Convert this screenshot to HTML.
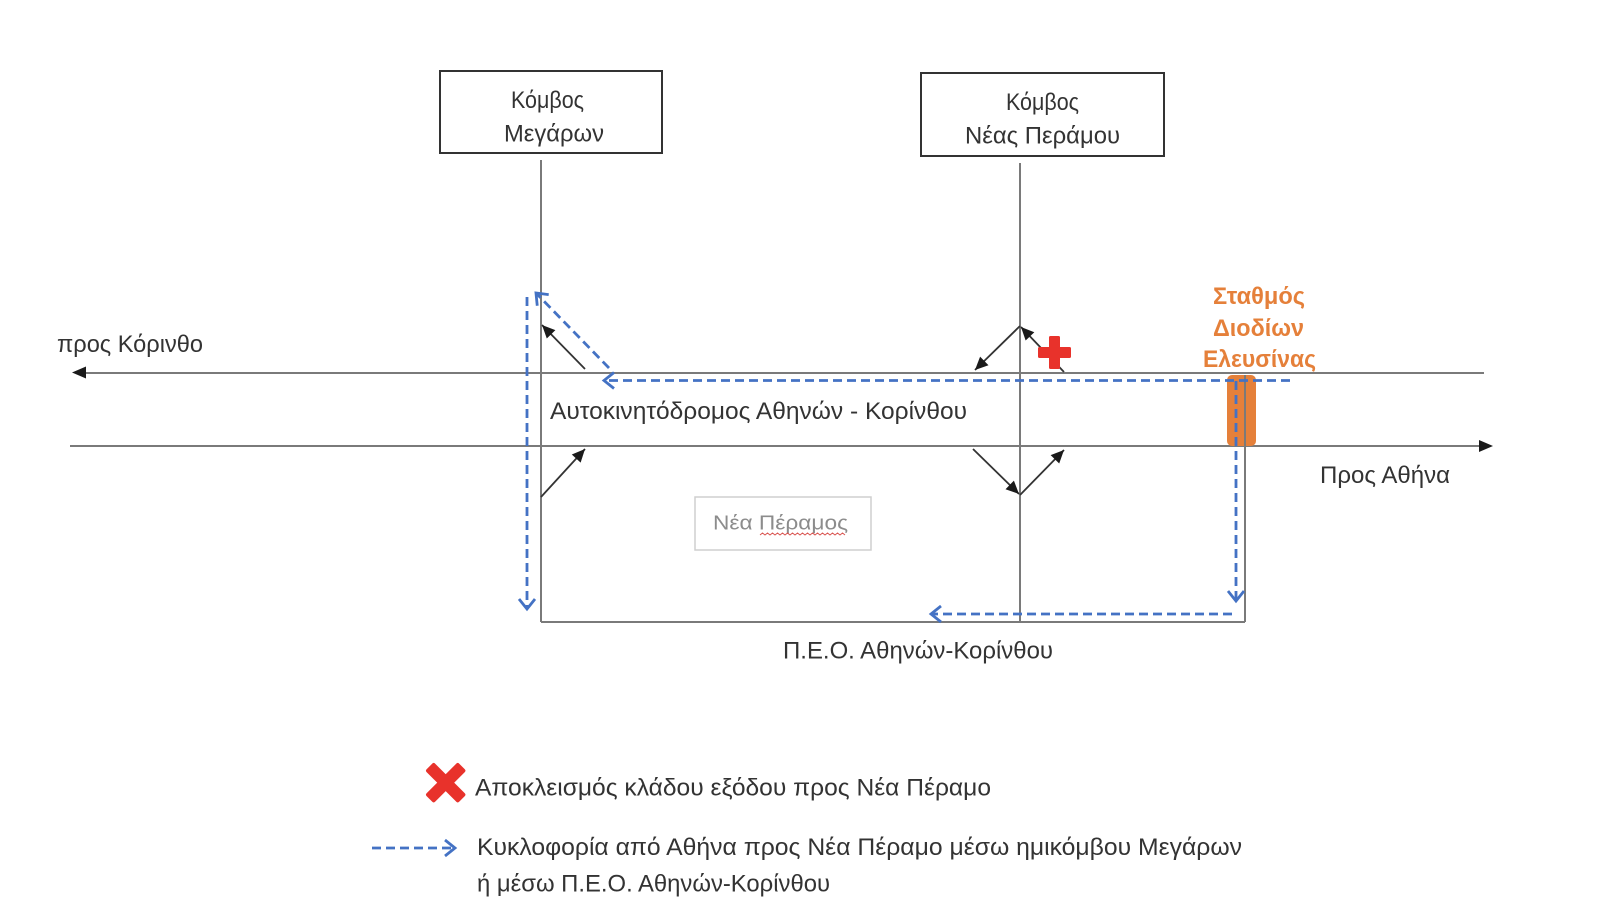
<!DOCTYPE html>
<html>
<head>
<meta charset="utf-8">
<style>
  html,body{margin:0;padding:0;background:#fff;}
  svg{display:block;}
  text{font-family:"Liberation Sans","Noto Sans CJK SC",sans-serif;}
</style>
</head>
<body>
<svg width="1608" height="922" viewBox="0 0 1608 922" xmlns="http://www.w3.org/2000/svg">
  <defs>
    <marker id="blk" markerUnits="userSpaceOnUse" markerWidth="16" markerHeight="14" refX="13" refY="6" orient="auto" overflow="visible">
      <path d="M0,0 L13,6 L0,12 z" fill="#1a1a1a"/>
    </marker>
    <marker id="blu" markerUnits="userSpaceOnUse" markerWidth="16" markerHeight="18" refX="10" refY="8" orient="auto" overflow="visible">
      <path d="M0,0 L10,8 L0,16" fill="none" stroke="#4472c4" stroke-width="2.8" stroke-linejoin="miter"/>
    </marker>
  </defs>

  <!-- Boxes -->
  <rect x="440" y="71" width="222" height="82" fill="#fff" stroke="#333" stroke-width="2"/>
  <text x="511" y="108" font-size="24" fill="#333" textLength="73" lengthAdjust="spacingAndGlyphs">Κόμβος</text>
  <text x="504" y="141.5" font-size="24" fill="#333" textLength="100" lengthAdjust="spacingAndGlyphs">Μεγάρων</text>

  <rect x="921" y="73" width="243" height="83" fill="#fff" stroke="#333" stroke-width="2"/>
  <text x="1006" y="110" font-size="24" fill="#333" textLength="73" lengthAdjust="spacingAndGlyphs">Κόμβος</text>
  <text x="965" y="143.5" font-size="24" fill="#333" textLength="155" lengthAdjust="spacingAndGlyphs">Νέας Περάμου</text>

  <!-- Verticals -->
  <line x1="541" y1="160" x2="541" y2="622" stroke="#7a7a7a" stroke-width="2"/>
  <line x1="1020" y1="163" x2="1020" y2="622" stroke="#7a7a7a" stroke-width="2"/>

  <!-- Main road lines -->
  <line x1="84" y1="373" x2="1484" y2="373" stroke="#7a7a7a" stroke-width="2"/>
  <path d="M72,372.5 L86,366.5 L86,378.5 z" fill="#1a1a1a"/>
  <line x1="70" y1="446" x2="1480" y2="446" stroke="#7a7a7a" stroke-width="2"/>
  <path d="M1493,446 L1479,440 L1479,452 z" fill="#1a1a1a"/>

  <!-- PEO road -->
  <line x1="541" y1="622" x2="1245" y2="622" stroke="#7a7a7a" stroke-width="2"/>

  <!-- Toll station -->
  <rect x="1227" y="375" width="29" height="71" rx="5" ry="5" fill="#e5803a"/>
  <line x1="1245" y1="375" x2="1245" y2="622" stroke="#7a7a7a" stroke-width="2"/>

  <!-- Black ramp arrows -->
  <line x1="585" y1="369" x2="542" y2="325" stroke="#333" stroke-width="1.8" marker-end="url(#blk)"/>
  <line x1="541" y1="497" x2="585" y2="449" stroke="#333" stroke-width="1.8" marker-end="url(#blk)"/>
  <line x1="1020" y1="326" x2="975" y2="370" stroke="#333" stroke-width="1.8" marker-end="url(#blk)"/>
  <line x1="1064" y1="372" x2="1021" y2="327" stroke="#333" stroke-width="1.8" marker-end="url(#blk)"/>
  <line x1="973" y1="449" x2="1019" y2="494" stroke="#333" stroke-width="1.8" marker-end="url(#blk)"/>
  <line x1="1020" y1="495" x2="1064" y2="450" stroke="#333" stroke-width="1.8" marker-end="url(#blk)"/>

  <!-- Red cross (closed ramp) -->
  <rect x="1038" y="347" width="33" height="11" rx="1.5" fill="#e8322b"/>
  <rect x="1049" y="336" width="11" height="33" rx="1.5" fill="#e8322b"/>

  <!-- Blue dashed routes -->
  <g fill="none" stroke="#4472c4" stroke-width="2.8" stroke-dasharray="9 5">
    <line x1="1290" y1="380.5" x2="604" y2="380.5" marker-end="url(#blu)"/>
    <line x1="609" y1="368" x2="536" y2="293" marker-end="url(#blu)"/>
    <line x1="527" y1="297" x2="527" y2="609" marker-end="url(#blu)"/>
    <line x1="1236" y1="381" x2="1236" y2="601" marker-end="url(#blu)"/>
    <line x1="1232" y1="614" x2="931" y2="614" marker-end="url(#blu)"/>
  </g>

  <!-- Labels -->
  <text x="57" y="352" font-size="24" fill="#333" textLength="146" lengthAdjust="spacingAndGlyphs">προς Κόρινθο</text>
  <text x="550" y="419" font-size="24" fill="#333" textLength="417" lengthAdjust="spacingAndGlyphs">Αυτοκινητόδρομος Αθηνών - Κορίνθου</text>
  <text x="1320" y="483" font-size="24" fill="#333" textLength="130" lengthAdjust="spacingAndGlyphs">Προς Αθήνα</text>

  <text x="1213" y="304" font-size="24" font-weight="bold" fill="#e5803a" textLength="92" lengthAdjust="spacingAndGlyphs">Σταθμός</text>
  <text x="1213" y="336" font-size="24" font-weight="bold" fill="#e5803a" textLength="91" lengthAdjust="spacingAndGlyphs">Διοδίων</text>
  <text x="1203" y="367" font-size="24" font-weight="bold" fill="#e5803a" textLength="113" lengthAdjust="spacingAndGlyphs">Ελευσίνας</text>

  <!-- Nea Peramos box -->
  <rect x="695" y="497" width="176" height="53" fill="#fff" stroke="#cfcfcf" stroke-width="1.5"/>
  <text x="713" y="529.5" font-size="20" fill="#8c8c8c" textLength="135" lengthAdjust="spacingAndGlyphs">Νέα Πέραμος</text>
  <path d="M760,535 l2.5,-2 l2.5,2 l2.5,-2 l2.5,2 l2.5,-2 l2.5,2 l2.5,-2 l2.5,2 l2.5,-2 l2.5,2 l2.5,-2 l2.5,2 l2.5,-2 l2.5,2 l2.5,-2 l2.5,2 l2.5,-2 l2.5,2 l2.5,-2 l2.5,2 l2.5,-2 l2.5,2 l2.5,-2 l2.5,2 l2.5,-2 l2.5,2 l2.5,-2 l2.5,2 l2.5,-2 l2.5,2 l2.5,-2 l2.5,2 l2.5,-2 l2.5,2" fill="none" stroke="#d9534f" stroke-width="1"/>

  <text x="783" y="658.5" font-size="24" fill="#333" textLength="270" lengthAdjust="spacingAndGlyphs">Π.Ε.Ο. Αθηνών-Κορίνθου</text>

  <!-- Legend -->
  <g transform="translate(445.7,782.7) rotate(45)">
    <rect x="-23" y="-6" width="46" height="12" rx="2" fill="#e8322b"/>
    <rect x="-6" y="-23" width="12" height="46" rx="2" fill="#e8322b"/>
  </g>
  <text x="475" y="795.5" font-size="24" fill="#333" textLength="516" lengthAdjust="spacingAndGlyphs">Αποκλεισμός κλάδου εξόδου προς Νέα Πέραμο</text>

  <line x1="372" y1="848" x2="455" y2="848" fill="none" stroke="#4472c4" stroke-width="2.8" stroke-dasharray="9 5" marker-end="url(#blu)"/>
  <text x="477" y="855" font-size="24" fill="#333" textLength="765" lengthAdjust="spacingAndGlyphs">Κυκλοφορία από Αθήνα προς Νέα Πέραμο μέσω ημικόμβου Μεγάρων</text>
  <text x="477" y="891.5" font-size="24" fill="#333" textLength="353" lengthAdjust="spacingAndGlyphs">ή μέσω Π.Ε.Ο. Αθηνών-Κορίνθου</text>
</svg>
</body>
</html>
